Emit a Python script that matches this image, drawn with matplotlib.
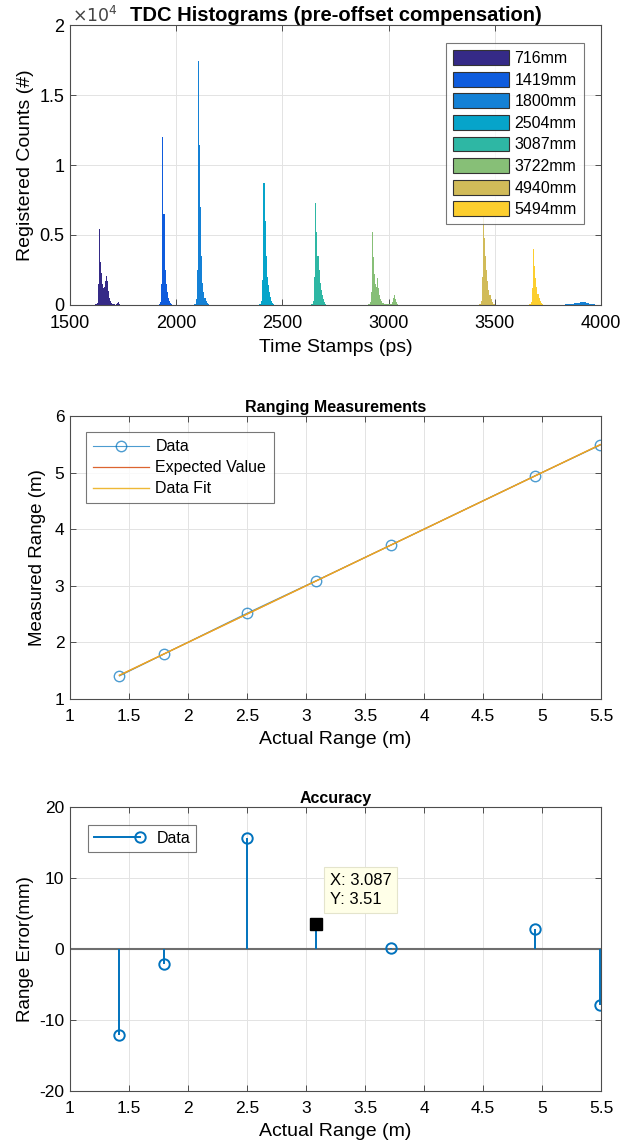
import numpy as np
import matplotlib
matplotlib.use('Agg')
import matplotlib.pyplot as plt
from matplotlib.patches import Patch
from matplotlib.lines import Line2D
from matplotlib.legend_handler import HandlerLine2D
from matplotlib.ticker import FuncFormatter

plt.rcParams['font.family'] = ['Liberation Sans', 'DejaVu Sans']
plt.rcParams['font.size'] = 12
plt.rcParams['axes.unicode_minus'] = False

# ---- histogram data (counts per 5 ps bin) ----
bin_w = 5
hist_labels = ['716mm', '1419mm', '1800mm', '2504mm', '3087mm', '3722mm', '4940mm', '5494mm']
hist_colors = ['#352a87', '#0f5cdd', '#1481d6', '#06a4ca', '#2eb7a4', '#87bf77', '#d1bb59', '#fcce2e']
hist_start = [1620, 1910, 2078, 2386, 2630, 2896, 3420, 3656]
h716 = [40, 150, 1500, 5400, 3100, 2300, 1500, 1200, 1300, 1700, 2100, 1700,
        1000, 500, 250, 120, 60, 40, 30, 40, 120, 220, 100, 30]
h1419 = [20, 30, 60, 200, 1500, 12000, 6500, 2500, 1500, 900, 500, 250, 120, 60, 30]
h1800 = [20, 40, 100, 400, 2500, 17400, 11400, 7000, 3500, 1600, 900, 500, 250, 120, 60, 30]
h2504 = [20, 40, 100, 300, 1800, 8700, 6000, 3500, 2000, 1400, 900, 600, 300, 150, 60, 30]
h3087 = [20, 40, 80, 300, 2000, 7300, 5200, 3500, 2500, 1600, 1100, 700, 400, 200, 80, 30]
h3722 = [20, 40, 80, 200, 900, 5200, 3400, 2200, 1500, 1300, 1900, 1200, 700,
         400, 250, 150, 100, 80, 60, 50, 40, 40, 50, 80, 200, 500, 700, 450, 200, 80, 30]
h4940 = [20, 40, 100, 300, 2000, 6500, 4800, 3500, 2500, 1700, 1100, 700, 400, 200, 100, 40]
h5494 = [20, 40, 80, 200, 1200, 4000, 2800, 1900, 1300, 800, 500, 300, 150, 60, 30]
hist_counts = [h716, h1419, h1800, h2504, h3087, h3722, h4940, h5494]
# low wrap-around counts at the right edge (drawn with 1800mm colour)
tail_start = 3820
tail_counts = [20, 30, 40, 40, 50, 60, 60, 70, 80, 90, 100, 110, 120, 140,
               150, 170, 200, 220, 230, 220, 200, 190, 170, 150, 120, 100, 80,
               60, 50, 40, 30, 30, 20, 20, 20, 20]

# ---- ranging data ----
actual_m = [1.419, 1.800, 2.504, 3.087, 3.722, 4.940, 5.494]
error_mm = [-12.1, -2.1, 15.6, 3.51, 0.2, 2.8, -7.9]
tip_x, tip_y = 3.087, 3.51

blue = '#0072BD'
orange = '#D95319'
yellow = '#EDB120'
spine_c = '#4d4d4d'
grid_c = '#e3e3e3'


class HandlerMarkRight(HandlerLine2D):
    # MATLAB stem legend: line with the marker at its right end
    def create_artists(self, *args, **kwargs):
        arts = super().create_artists(*args, **kwargs)
        arts[0].set_markevery([2])
        return arts


def style_axes(ax, size=12.5):
    for s in ax.spines.values():
        s.set_color(spine_c)
        s.set_linewidth(0.8)
    ax.tick_params(direction='in', top=True, right=True, length=4, width=0.7,
                   color=spine_c, labelsize=size)
    ax.tick_params(axis='x', pad=7)
    ax.tick_params(axis='y', pad=4)
    ax.grid(True, color=grid_c, linewidth=0.7)
    ax.set_axisbelow(True)


W, H = 633, 1147
fig = plt.figure(figsize=(W / 100, H / 100), dpi=100)


def add_ax(left, top, right, bottom):
    return fig.add_axes([left / W, 1 - bottom / H, (right - left) / W, (bottom - top) / H])


# ---------------- top: histograms ----------------
ax1 = add_ax(70, 25, 601, 305)
for i in range(len(hist_counts)):
    c = np.array(hist_counts[i])
    x = hist_start[i] + bin_w * np.arange(len(c))
    ax1.bar(x, c, width=bin_w, align='edge', color=hist_colors[i], linewidth=0, zorder=2)
tc = np.array(tail_counts)
ax1.bar(tail_start + bin_w * np.arange(len(tc)), tc, width=bin_w, align='edge',
        color=hist_colors[2], linewidth=0, zorder=2)
ax1.set_xlim(1500, 4000)
ax1.set_ylim(0, 20000)
ax1.set_xticks([1500, 2000, 2500, 3000, 3500, 4000])
ax1.set_yticks([0, 5000, 10000, 15000, 20000])
ax1.yaxis.set_major_formatter(FuncFormatter(lambda v, p: f'{v / 1e4:g}'))
style_axes(ax1, 13)
ax1.text(0.003, 1.0, r'$\times10^{4}$', transform=ax1.transAxes, fontsize=12.5,
         color='#444444', ha='left', va='bottom')
ax1.set_title('TDC Histograms (pre-offset compensation)', fontsize=14.5,
              fontweight='bold', pad=3)
ax1.set_xlabel('Time Stamps (ps)', fontsize=14, labelpad=5)
ax1.set_ylabel('Registered Counts (#)', fontsize=14, labelpad=4)
handles = [Patch(facecolor=hist_colors[i], edgecolor='#333333', linewidth=0.8)
           for i in range(len(hist_labels))]
leg = ax1.legend(handles, hist_labels, loc='upper right', bbox_to_anchor=(0.968, 0.936),
                 fontsize=11.5, frameon=True, fancybox=False, handlelength=3.5,
                 handleheight=1.05, handletextpad=0.35, labelspacing=0.36,
                 borderpad=0.45, borderaxespad=0)
leg.get_frame().set_edgecolor('#555555')
leg.get_frame().set_linewidth(0.8)

# ---------------- middle: ranging ----------------
act = np.array(actual_m)
meas = act + np.array(error_mm) / 1000.0
p = np.polyfit(act, meas, 1)
ax2 = add_ax(70, 416, 601, 699)
ax2.plot(act, meas, color=blue, linewidth=0.8, marker='o', markersize=7.5,
         markerfacecolor='none', markeredgewidth=1.0, alpha=0.7, label='Data')
ax2.plot(act, act, color=orange, linewidth=0.9, alpha=0.9, label='Expected Value')
ax2.plot(act, np.polyval(p, act), color=yellow, linewidth=1.0, alpha=0.9, label='Data Fit')
ax2.set_xlim(1, 5.5)
ax2.set_ylim(1, 6)
ax2.set_xticks(np.arange(1, 5.51, 0.5))
ax2.set_yticks([1, 2, 3, 4, 5, 6])
ax2.xaxis.set_major_formatter(FuncFormatter(lambda v, p: f'{v:g}'))
style_axes(ax2)
ax2.set_title('Ranging Measurements', fontsize=11.5, fontweight='bold', pad=3)
ax2.set_xlabel('Actual Range (m)', fontsize=14, labelpad=5)
ax2.set_ylabel('Measured Range (m)', fontsize=13.5, labelpad=6)
leg2 = ax2.legend(loc='upper left', fontsize=11.5, fancybox=False, handlelength=3.5,
                  handletextpad=0.4, borderaxespad=1.0, labelspacing=0.38,
                  borderpad=0.45)
leg2.get_frame().set_edgecolor('#555555')
leg2.get_frame().set_linewidth(0.8)

# ---------------- bottom: accuracy ----------------
ax3 = add_ax(70, 807, 601, 1091)
ml, sl, bl = ax3.stem(act, error_mm, linefmt='-', markerfmt='o', basefmt=' ', label='Data')
plt.setp(sl, color=blue, linewidth=1.4)
plt.setp(ml, color=blue, markersize=7.5, markerfacecolor='none', markeredgewidth=1.4)
ax3.axhline(0, color='#6e6e6e', linewidth=1.5, zorder=1.5)
ax3.plot([tip_x], [tip_y], marker='s', color='black', markersize=8.5, zorder=5,
         linestyle='none')
ax3.text(3.20, 8.3, f'X: {tip_x:.3f}\nY: {tip_y:g}', fontsize=12, va='center',
         ha='left', linespacing=1.35, zorder=6,
         bbox=dict(boxstyle='square,pad=0.35', facecolor='#ffffe8',
                   edgecolor='#e4e4cc', linewidth=0.8))
ax3.set_xlim(1, 5.5)
ax3.set_ylim(-20, 20)
ax3.set_xticks(np.arange(1, 5.51, 0.5))
ax3.set_yticks([-20, -10, 0, 10, 20])
ax3.xaxis.set_major_formatter(FuncFormatter(lambda v, p: f'{v:g}'))
style_axes(ax3)
ax3.set_title('Accuracy', fontsize=11.5, fontweight='bold', pad=3)
ax3.set_xlabel('Actual Range (m)', fontsize=14, labelpad=5)
ax3.set_ylabel('Range Error(mm)', fontsize=13.5, labelpad=4)
leg_h = Line2D([0], [0], color=blue, linewidth=1.4, marker='o', markersize=7.5,
               markerfacecolor='none', markeredgewidth=1.4)
leg3 = ax3.legend([leg_h], ['Data'], loc='upper left', fontsize=11.5, fancybox=False,
                  handlelength=2.9, handletextpad=1.0, borderaxespad=1.1,
                  borderpad=0.4, handler_map={Line2D: HandlerMarkRight(numpoints=1)})
leg3.get_frame().set_edgecolor('#555555')
leg3.get_frame().set_linewidth(0.8)

plt.savefig('out.png', dpi=100)
